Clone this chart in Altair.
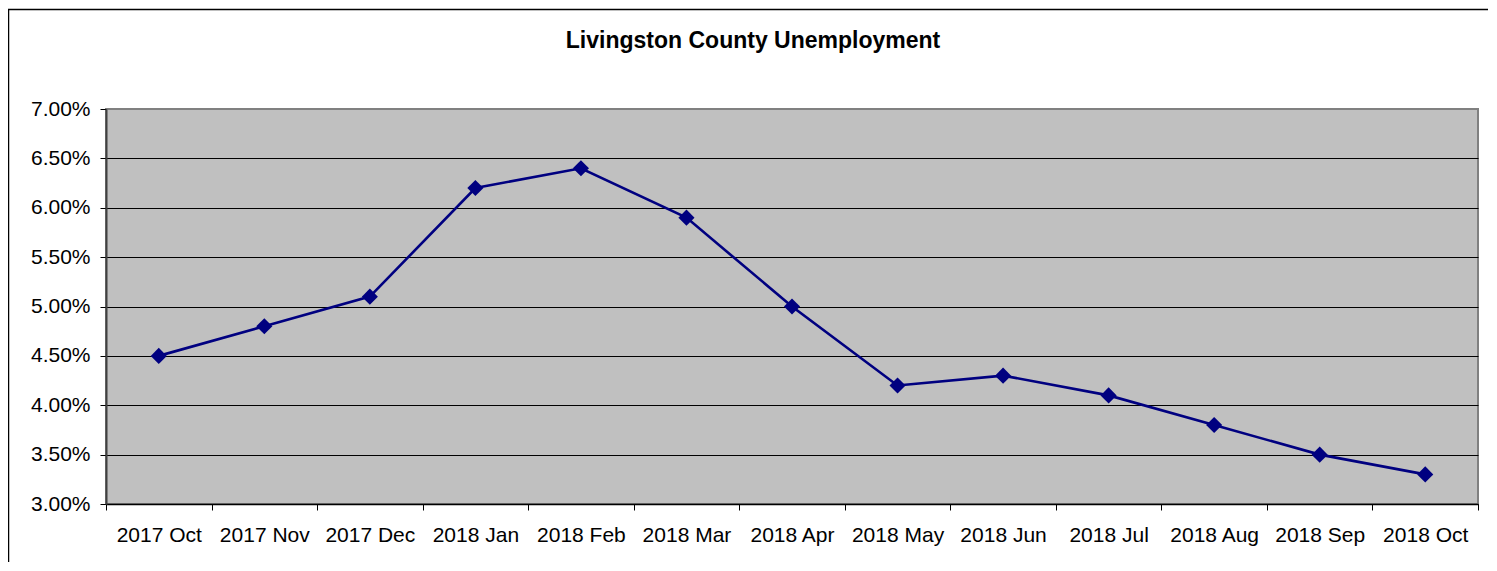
import altair as alt
import pandas as pd

months = ["2017 Oct", "2017 Nov", "2017 Dec", "2018 Jan", "2018 Feb", "2018 Mar",
          "2018 Apr", "2018 May", "2018 Jun", "2018 Jul", "2018 Aug", "2018 Sep", "2018 Oct"]
rates_pct = [4.5, 4.8, 5.1, 6.2, 6.4, 5.9, 5.0, 4.2, 4.3, 4.1, 3.8, 3.5, 3.3]
y_tick_pct = [3.0, 3.5, 4.0, 4.5, 5.0, 5.5, 6.0, 6.5, 7.0]
title_text = "Livingston County Unemployment"

FONT = "Liberation Sans"
NAVY = "#000080"

df = pd.DataFrame({"month": months, "rate": [r / 100 for r in rates_pct]})
y_ticks = [v / 100 for v in y_tick_pct]

x_enc = alt.X(
    "month:N",
    sort=months,
    title=None,
    bandPosition=0.5,
    scale=alt.Scale(type="band", paddingInner=0, paddingOuter=0),
    axis=alt.Axis(
        tickBand="extent", labelAngle=0, labelFont=FONT, labelFontSize=21,
        labelColor="black", tickColor="black", tickSize=6, tickWidth=1,
        domainColor="black", domainWidth=1.5, labelPadding=14, grid=False,
    ),
)
y_enc = alt.Y(
    "rate:Q",
    title=None,
    scale=alt.Scale(domain=[y_ticks[0], y_ticks[-1]], nice=False, zero=False),
    axis=alt.Axis(
        values=y_ticks, format=".2%", grid=True,
        gridColor=alt.condition("datum.value > 0.0695", alt.value("#808080"), alt.value("black")),
        gridWidth=1, tickSize=6, tickColor="black", labelPadding=10,
        domainColor="#404040", domainWidth=2, labelFont=FONT, labelFontSize=21,
        labelColor="black",
    ),
)

base = alt.Chart(df).encode(x=x_enc, y=y_enc)
line = base.mark_line(color=NAVY, strokeWidth=2.6)
pts = base.mark_point(shape="diamond", filled=True, size=260, color=NAVY, opacity=1)

one_df = pd.DataFrame({"a": [0]})
frame_left = alt.Chart(one_df).mark_rule(color="black", strokeWidth=1.5).encode(
    x=alt.value(-97.5), y=alt.value(-100), y2=alt.value(470)
)
frame_top = alt.Chart(one_df).mark_rule(color="black", strokeWidth=1.5).encode(
    x=alt.value(-98), x2=alt.value(1400), y=alt.value(-99.5)
)
title_mark = alt.Chart(one_df).mark_text(
    font=FONT, fontSize=23, fontWeight="bold", color="black",
    align="center", baseline="alphabetic",
).encode(x=alt.value(647), y=alt.value(-61), text=alt.value(title_text))

chart = alt.layer(frame_left, frame_top, line, pts, title_mark).properties(
    width=1372,
    height=395,
    autosize=alt.AutoSizeParams(type="none"),
    padding={"left": 98, "top": 101, "right": 10, "bottom": 58},
).configure_view(fill="#C0C0C0", stroke="#808080", strokeWidth=2)

chart.save("out.html", embed_options={"renderer": "svg", "actions": False})
